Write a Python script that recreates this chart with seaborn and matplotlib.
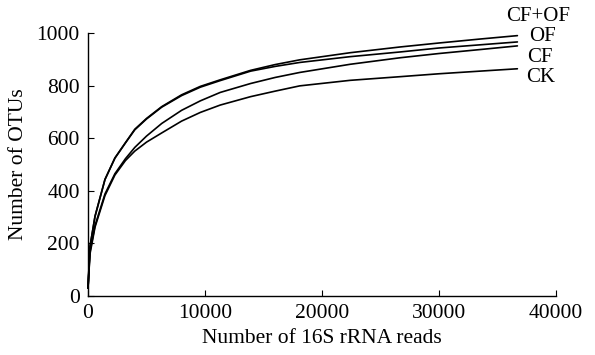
import matplotlib
matplotlib.use("Agg")
import matplotlib.pyplot as plt
import seaborn as sns
import pandas as pd

reads = [0, 170, 600, 1450, 2300, 3200, 4000, 5000, 6300, 8000, 9600, 11300,
         13900, 16000, 18100, 22400, 26700, 30000, 33500, 36700]
cf_of = [30, 188, 303, 443, 525, 583, 634, 675, 720, 765, 797, 822,
         858, 880, 898, 925, 947, 962, 977, 990]
of_ = [30, 188, 303, 443, 524, 582, 632, 673, 718, 762, 794, 819,
       855, 873, 888, 910, 928, 943, 955, 966]
cf = [30, 168, 268, 388, 465, 522, 565, 608, 656, 706, 742, 774,
      808, 831, 850, 881, 906, 922, 937, 951]
ck = [30, 160, 262, 382, 460, 515, 551, 585, 620, 665, 698, 726,
      758, 779, 799, 820, 834, 845, 855, 864]
groups = ["CF+OF", "OF", "CF", "CK"]
series = [cf_of, of_, cf, ck]
x_ticks = [0, 10000, 20000, 30000, 40000]
y_ticks = [0, 200, 400, 600, 800, 1000]

rows = []
for g, vals in zip(groups, series):
    for r, v in zip(reads, vals):
        rows.append({"reads": r, "otus": v, "group": g})
df = pd.DataFrame(rows)

sns.set_style("ticks")
plt.rcParams["font.family"] = ["Liberation Serif", "DejaVu Serif"]
plt.rcParams["font.size"] = 15.5
plt.rcParams["text.color"] = "black"
plt.rcParams["axes.labelcolor"] = "black"

fig = plt.figure(figsize=(5.95, 3.55), dpi=100)
ax = fig.add_axes([88 / 595, 1 - 296 / 355, (556 - 88) / 595, (296 - 33) / 355])
sns.lineplot(data=df, x="reads", y="otus", hue="group", palette=["black"] * 4,
             linewidth=1.2, legend=False, ax=ax, sort=False, estimator=None)
for ln in ax.lines:
    ln.set_clip_on(False)
    ln.set_solid_joinstyle("round")

ax.set_xlim(0, 40000)
ax.set_ylim(0, 1000)
ax.set_xticks(x_ticks)
ax.set_yticks(y_ticks)
ax.tick_params(direction="in", length=4, width=0.8, colors="black", labelsize=15.5, pad=6)
sns.despine(ax=ax)
for s in ["left", "bottom"]:
    ax.spines[s].set_linewidth(1.0)
    ax.spines[s].set_color("black")
ax.set_xlabel("Number of 16S rRNA reads", fontsize=15.5, labelpad=4, color="black")
ax.set_ylabel("Number of OTUs", fontsize=15.5, labelpad=6, color="black")

label_pos = {"CF+OF": (35730, 1062), "OF": (37700, 985), "CF": (37550, 908), "CK": (37450, 831)}
for g in groups:
    x, y = label_pos[g]
    ax.text(x, y, g, ha="left", va="center", fontsize=15, clip_on=False, color="black")

fig.savefig("out.png", dpi=100, facecolor="white")
